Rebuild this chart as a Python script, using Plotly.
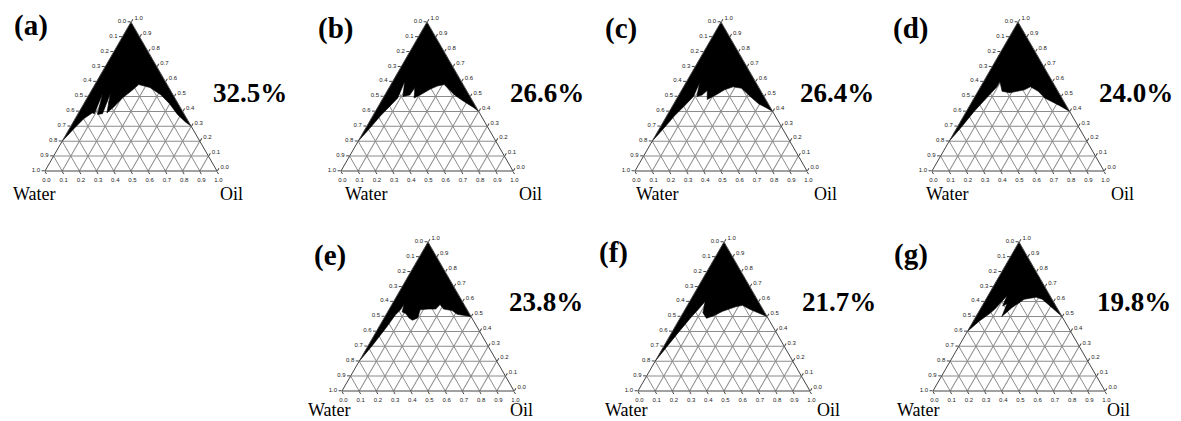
import plotly.graph_objects as go

# ---------------- data ----------------
panel_tags = ["(a)", "(b)", "(c)", "(d)", "(e)", "(f)", "(g)"]
percent_labels = ["32.5%", "26.6%", "26.4%", "24.0%", "23.8%", "21.7%", "19.8%"]
corner_left = "Water"
corner_right = "Oil"

tick_values = [0.0, 0.1, 0.2, 0.3, 0.4, 0.5, 0.6, 0.7, 0.8, 0.9, 1.0]
tick_labels = ["1.0", "0.9", "0.8", "0.7", "0.6", "0.5", "0.4", "0.3", "0.2", "0.1", "0.0"]

# boundary of the black (single-phase) region: surfactant and oil fractions,
# water = 1 - surfactant - oil
surf_a = [1.0, 0.20, 0.28, 0.35, 0.39, 0.385, 0.52, 0.38, 0.385, 0.52, 0.39, 0.43, 0.49, 0.54, 0.58, 0.56, 0.51, 0.45, 0.38, 0.33, 0.30]
oil_a = [0.0, 0.00, 0.025, 0.05, 0.08, 0.095, 0.075, 0.115, 0.142, 0.12, 0.165, 0.185, 0.205, 0.235, 0.255, 0.33, 0.42, 0.50, 0.58, 0.65, 0.70]

surf_b = [1.0, 0.20, 0.29, 0.37, 0.43, 0.49, 0.60, 0.50, 0.51, 0.56, 0.49, 0.51, 0.55, 0.57, 0.58, 0.51, 0.47, 0.425, 0.40]
oil_b = [0.0, 0.00, 0.025, 0.045, 0.065, 0.085, 0.07, 0.11, 0.145, 0.15, 0.18, 0.205, 0.245, 0.275, 0.31, 0.405, 0.475, 0.56, 0.60]

surf_c = [1.0, 0.20, 0.29, 0.37, 0.44, 0.50, 0.59, 0.50, 0.51, 0.54, 0.48, 0.51, 0.545, 0.565, 0.555, 0.50, 0.45, 0.42, 0.40]
oil_c = [0.0, 0.00, 0.025, 0.045, 0.07, 0.09, 0.08, 0.11, 0.135, 0.15, 0.18, 0.215, 0.248, 0.288, 0.342, 0.42, 0.495, 0.56, 0.60]

surf_d = [1.0, 0.20, 0.30, 0.40, 0.50, 0.565, 0.60, 0.535, 0.525, 0.545, 0.565, 0.535, 0.49, 0.44, 0.40]
oil_d = [0.0, 0.00, 0.025, 0.045, 0.075, 0.095, 0.095, 0.14, 0.19, 0.265, 0.29, 0.35, 0.41, 0.52, 0.60]

surf_e = [1.0, 0.20, 0.31, 0.43, 0.51, 0.545, 0.58, 0.53, 0.52, 0.49, 0.475, 0.49, 0.545, 0.55, 0.55, 0.58, 0.55, 0.54, 0.515, 0.505, 0.50]
oil_e = [0.0, 0.00, 0.025, 0.045, 0.055, 0.068, 0.07, 0.085, 0.11, 0.145, 0.172, 0.195, 0.182, 0.225, 0.27, 0.28, 0.315, 0.37, 0.412, 0.468, 0.50]

surf_f = [1.0, 0.20, 0.30, 0.40, 0.49, 0.56, 0.60, 0.525, 0.488, 0.503, 0.535, 0.565, 0.575, 0.55, 0.52, 0.50]
oil_f = [0.0, 0.00, 0.02, 0.04, 0.06, 0.08, 0.09, 0.115, 0.154, 0.185, 0.225, 0.285, 0.32, 0.372, 0.448, 0.50]

surf_g = [1.0, 0.40, 0.47, 0.52, 0.55, 0.64, 0.57, 0.585, 0.50, 0.56, 0.615, 0.63, 0.615, 0.555, 0.50]
oil_g = [0.0, 0.00, 0.035, 0.07, 0.085, 0.11, 0.12, 0.138, 0.15, 0.18, 0.222, 0.285, 0.328, 0.418, 0.50]

surf_all = [surf_a, surf_b, surf_c, surf_d, surf_e, surf_f, surf_g]
oil_all = [oil_a, oil_b, oil_c, oil_d, oil_e, oil_f, oil_g]

# ---------------- layout helpers ----------------
FIG_W, FIG_H = 1181, 421
TRI_H = 149.0
TRI_W = TRI_H / (3 ** 0.5 / 2)
# (centre x, top y) of each triangle in pixels
tri_pos = [(131, 22), (427, 22), (721, 22), (1018, 22),
           (428, 242), (724, 242), (1019, 242)]
tag_pos = [(31, 26), (335, 28), (621, 28), (910, 28), (330, 255), (613, 252), (911, 254)]
pct_pos = [(211, 93), (508, 93), (798, 93), (1097, 93), (507, 302), (800, 302), (1095, 302)]
water_pos = [(34, 194), (366, 194), (657, 194), (947, 194), (330, 410), (626, 410), (918, 410)]
oil_pos = [(232, 194), (530, 194), (825, 194), (1122, 194), (521, 410), (828, 410), (1118, 410)]


def px(x):
    return x / FIG_W


def py(y):
    return 1 - y / FIG_H


axis_style = dict(
    tickmode="array", tickvals=tick_values, ticktext=tick_labels,
    ticks="outside", ticklen=3, tickwidth=0.8, tickcolor="#444",
    tickfont=dict(size=6, color="#222", family="Arial"),
    showline=True, linecolor="#444", linewidth=1,
    showgrid=True, gridcolor="#8c8c8c", gridwidth=0.7,
    min=0, title=dict(text=""),
)

fig = go.Figure()
layout_upd = {}
annotations = []
serif = "Liberation Serif"
for i in range(7):
    name = "ternary" if i == 0 else f"ternary{i + 1}"
    cx, ty = tri_pos[i]
    by = ty + TRI_H
    layout_upd[name] = dict(
        domain=dict(x=[px(cx - TRI_W / 2), px(cx + TRI_W / 2)], y=[py(by), py(ty)]),
        sum=1, bgcolor="white",
        aaxis=axis_style, baxis=axis_style, caxis=axis_style,
    )
    s = surf_all[i]
    o = oil_all[i]
    w = [round(1 - a - c, 4) for a, c in zip(s, o)]
    fig.add_trace(go.Scatterternary(
        a=s, b=w, c=o, mode="lines", fill="toself", fillcolor="black",
        line=dict(color="black", width=0.6), subplot=name,
        showlegend=False, hoverinfo="skip",
    ))
    annotations.append(dict(text="<b>" + panel_tags[i] + "</b>", x=px(tag_pos[i][0]), y=py(tag_pos[i][1]),
                            xref="paper", yref="paper", showarrow=False, xanchor="center", yanchor="middle",
                            font=dict(family=serif, size=29, color="black")))
    annotations.append(dict(text="<b>" + percent_labels[i] + "</b>", x=px(pct_pos[i][0]), y=py(pct_pos[i][1]),
                            xref="paper", yref="paper", showarrow=False, xanchor="left", yanchor="middle",
                            font=dict(family=serif, size=27, color="black")))
    annotations.append(dict(text=corner_left, x=px(water_pos[i][0]), y=py(water_pos[i][1]),
                            xref="paper", yref="paper", showarrow=False, xanchor="center", yanchor="middle",
                            font=dict(family=serif, size=18, color="black")))
    annotations.append(dict(text=corner_right, x=px(oil_pos[i][0]), y=py(oil_pos[i][1]),
                            xref="paper", yref="paper", showarrow=False, xanchor="center", yanchor="middle",
                            font=dict(family=serif, size=18, color="black")))

fig.update_layout(
    width=FIG_W, height=FIG_H,
    margin=dict(l=0, r=0, t=0, b=0),
    paper_bgcolor="white", plot_bgcolor="white",
    annotations=annotations,
    **layout_upd,
)

fig.write_html(
    "out.html",
    config={"displayModeBar": False},
    post_script="document.body.style.margin='0';document.body.style.overflow='hidden';",
)
